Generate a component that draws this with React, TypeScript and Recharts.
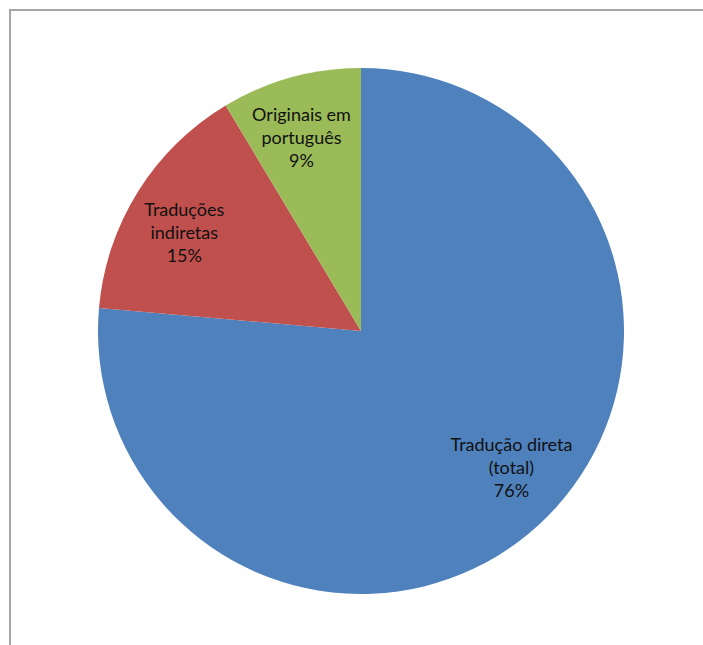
import React from "react";
import { PieChart, Pie, Cell } from "recharts";

const categories = ["Tradução direta\n(total)", "Traduções\nindiretas", "Originais em\nportuguês"];
const values = [76.4, 15.0, 8.6];
const colors = ["#4F81BD", "#C0504D", "#9BBB59"];

const data = categories.map((name, i) => ({ name, value: values[i] }));

const RAD = Math.PI / 180;
const LABEL_RATIO = 0.77;
const LABEL_ANGLE_ADJ = [5.5, 2.8, 1.6];
const LINE_H = 23;

const renderLabel = (props: any) => {
  const { cx, cy, midAngle, outerRadius, percent, name, index } = props;
  const r = outerRadius * LABEL_RATIO;
  const a = midAngle + (LABEL_ANGLE_ADJ[index] || 0);
  const x = cx + r * Math.cos(-a * RAD);
  const y = cy + r * Math.sin(-a * RAD);
  const lines = [...String(name).split("\n"), `${Math.round(percent * 100)}%`];
  const startDy = -((lines.length - 1) / 2) * LINE_H;
  return (
    <text
      x={x}
      y={y}
      textAnchor="middle"
      dominantBaseline="central"
      fill="#111"
      fontFamily="Lato, 'Open Sans', sans-serif"
      fontSize={18}
    >
      {lines.map((l, i) => (
        <tspan key={i} x={x} dy={i === 0 ? startDy : LINE_H}>
          {l}
        </tspan>
      ))}
    </text>
  );
};

export default function App() {
  return (
    <div style={{ position: "absolute", left: 0, top: 0, width: 703, height: 645, background: "#fff", overflow: "hidden" }}>
      <div
        style={{
          position: "absolute",
          left: 9,
          top: 9,
          width: 720,
          height: 660,
          borderLeft: "2px solid #a6a6a6",
          borderTop: "2px solid #a6a6a6",
          boxSizing: "border-box",
        }}
      />
      <div style={{ position: "absolute", left: 0, top: 0 }}>
        <PieChart width={703} height={645} margin={{ top: 0, right: 0, bottom: 0, left: 0 }}>
          <Pie
            data={data}
            dataKey="value"
            nameKey="name"
            cx={361}
            cy={331}
            outerRadius={263}
            startAngle={90}
            endAngle={-270}
            stroke="none"
            labelLine={false}
            label={renderLabel}
            isAnimationActive={false}
          >
            {data.map((d, i) => (
              <Cell key={d.name} fill={colors[i]} />
            ))}
          </Pie>
        </PieChart>
      </div>
    </div>
  );
}
